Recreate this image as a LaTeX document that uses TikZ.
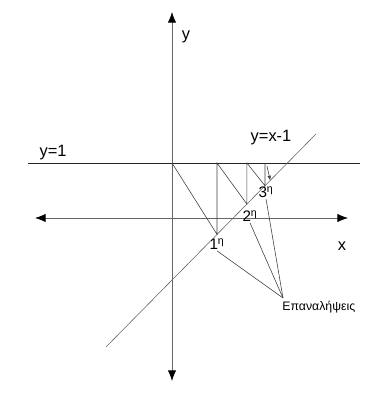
\documentclass[tikz,border=0pt]{standalone}
\usepackage{fontspec}
\setmainfont{Liberation Sans}
\usetikzlibrary{arrows.meta,calc}
\begin{document}
\begin{tikzpicture}[x=0.03cm, y=-0.03cm,
  axis/.style={draw=black!60, line width=0.6pt,
    {Latex[length=9pt,width=7pt,color=black]}-{Latex[length=9pt,width=7pt,color=black]}},
  curve/.style={draw=black!75, line width=0.5pt},
  lbl/.style={font=\fontsize{14}{16}\selectfont, inner sep=1pt},
  ord/.style={font=\fontsize{13}{15}\selectfont, inner sep=1pt}]
\useasboundingbox (0,0) rectangle (364,393);
% axes
\coordinate (xl) at (35,218);
\coordinate (xr) at (348,218);
\coordinate (yb) at (172,381);
\coordinate (yt) at (172,12);
\draw[axis] (xl) -- (xr);
\draw[axis] (yb) -- (yt);
\node[lbl] (xlab) at (342,246) {x};
\node[lbl] (ylab) at (186,37) {y};
% y=1 and y=x-1
\coordinate (h1) at (28,163);
\coordinate (h2) at (360,163);
\draw[curve, draw=black!85] (h1) -- (h2);
\node[lbl] (hlab) at (53,153) {y=1};
\coordinate (a) at (106,347);
\coordinate (b) at (316,134);
\draw[curve, draw=black!60] (a) -- (b);
\node[lbl] (dlab) at (271,138) {y=x-1};
% iterations
\coordinate (o) at (172,163);
\coordinate (p1) at ($(a)!0.5286!(b)$);
\coordinate (p2) at ($(a)!0.671!(b)$);
\coordinate (p3) at ($(a)!0.757!(b)$);
\coordinate (p4) at ($(a)!0.782!(b)$);
\draw[curve] (o) -- (p1) -- (p1 |- o) -- (p2) -- (p2 |- o) -- (p3) -- (p3 |- o);
\draw[curve, -{Latex[length=4pt,width=3pt]}] ($(p3 |- o)+(2,3)$) -- (p4);
\node[ord] (n1) at (217,244) {1\textsuperscript{η}};
\node[ord] (n2) at (250,216) {2\textsuperscript{η}};
\node[ord] (n3) at (266,192) {3\textsuperscript{η}};
\coordinate (conv) at (283,298);
\node[font=\fontsize{10.5}{12}\selectfont, anchor=north west, inner sep=1pt] (it) at (281,300) {Επαναλήψεις};
\draw[curve] (n1.south) -- (conv);
\draw[curve] (n2.south) -- (conv);
\draw[curve] (n3.south) -- (conv);
\end{tikzpicture}
\end{document}
